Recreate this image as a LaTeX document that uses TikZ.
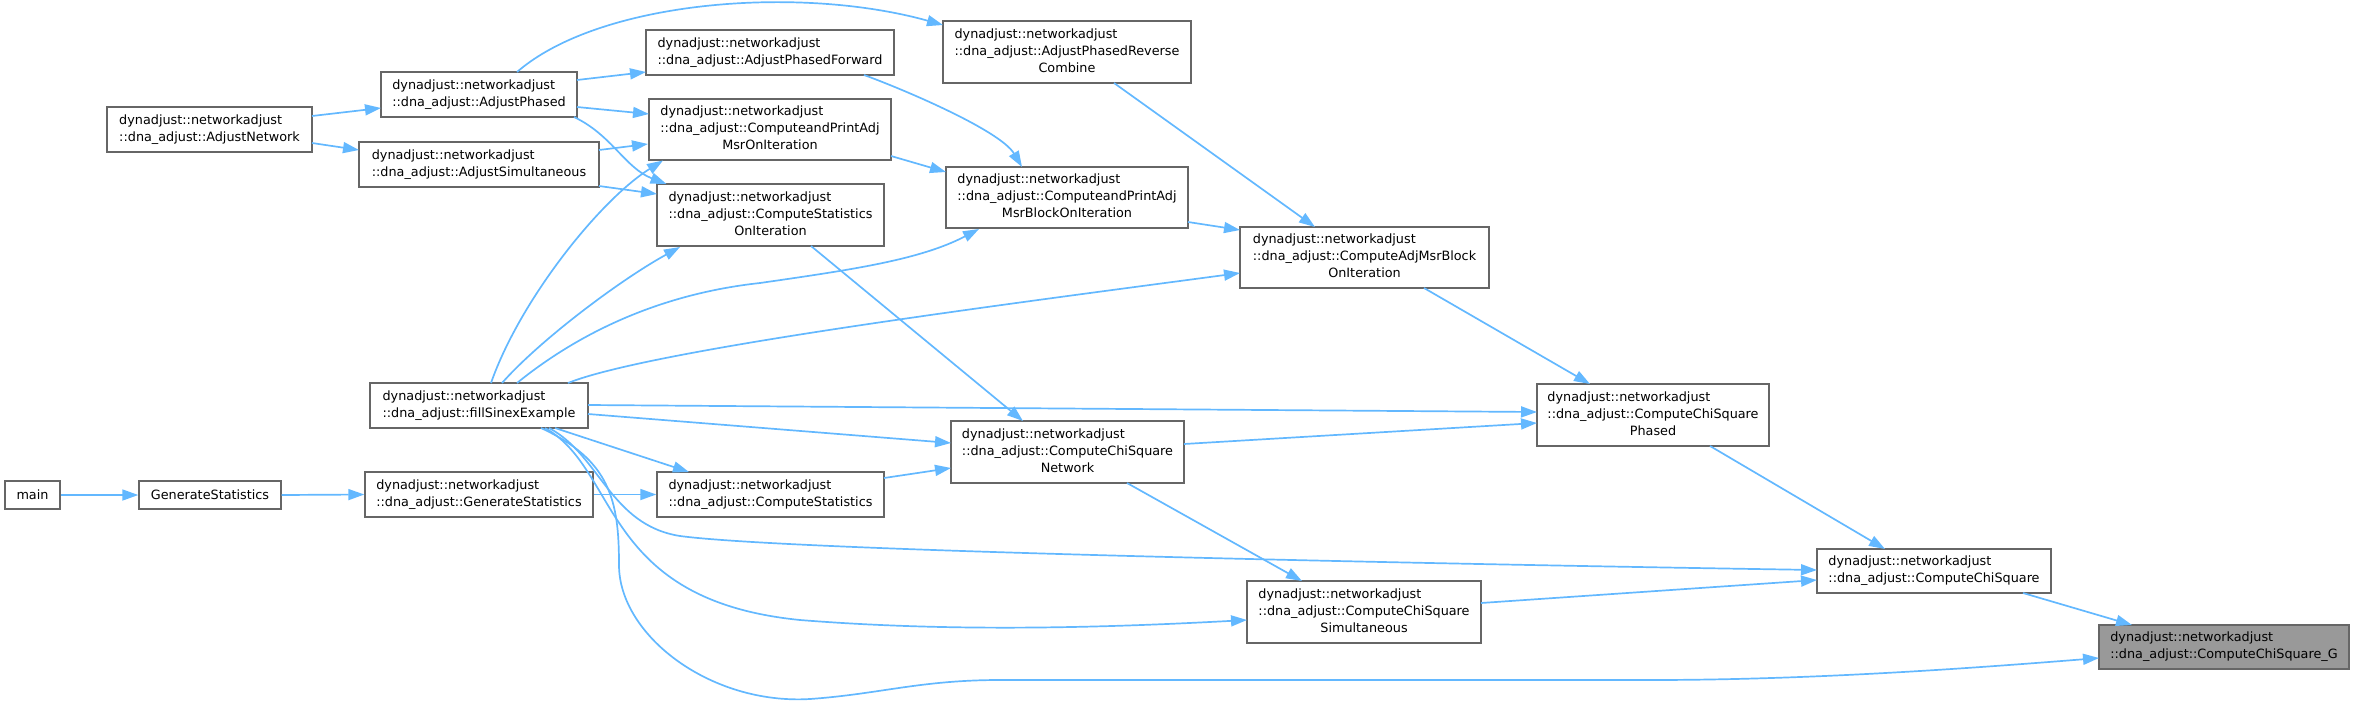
\documentclass[tikz,border=0pt]{standalone}
\usepackage{fontspec}
\setmainfont{DejaVu Sans}
\usetikzlibrary{arrows.meta,calc}
\definecolor{edgeblue}{HTML}{63B8FF}
\definecolor{boxgray}{HTML}{666666}
\definecolor{hlgray}{HTML}{999999}
\newcommand\twol[2]{\begin{tabular}{@{}l@{}}#1\\#2\end{tabular}}
\newcommand\threel[3]{\begin{tabular}{@{}l@{}}#1\\#2\\\multicolumn{1}{@{}c@{}}{#3}\end{tabular}}
\newcommand\dnn{dynadjust::networkadjust}
\begin{document}
\begin{tikzpicture}[x=0.5pt,y=-0.5pt,
  nbox/.style={draw=boxgray, fill=white, line width=0.7pt, inner sep=0pt,
    font=\fontsize{6.4pt}{8.5pt}\selectfont, text=black},
  edge/.style={draw=edgeblue, line width=0.85pt, -{Triangle[length=8pt,width=5.5pt]}}]
\useasboundingbox (0,0) rectangle (2355,707);

% nodes
\node[nbox, minimum width=27.5pt, minimum height=14pt] (main) at (32.5,495) {main};
\node[nbox, minimum width=71pt, minimum height=14pt] (gs) at (210,495) {GenerateStatistics};
\node[nbox, minimum width=114pt, minimum height=22.5pt] (dgs) at (479,494.5) {\twol{\dnn}{::dna\_adjust::GenerateStatistics}};
\node[nbox, minimum width=109pt, minimum height=22.5pt] (fill) at (479,405.5) {\twol{\dnn}{::dna\_adjust::fillSinexExample}};
\node[nbox, minimum width=102.5pt, minimum height=22.5pt] (an) at (209.5,129.5) {\twol{\dnn}{::dna\_adjust::AdjustNetwork}};
\node[nbox, minimum width=98pt, minimum height=22.5pt] (ap) at (479,94.5) {\twol{\dnn}{::dna\_adjust::AdjustPhased}};
\node[nbox, minimum width=120pt, minimum height=22.5pt] (as) at (479,164.5) {\twol{\dnn}{::dna\_adjust::AdjustSimultaneous}};
\node[nbox, minimum width=124pt, minimum height=22.5pt] (apf) at (770,52.5) {\twol{\dnn}{::dna\_adjust::AdjustPhasedForward}};
\node[nbox, minimum width=121pt, minimum height=30.5pt] (cpamoi) at (770,129.5) {\threel{\dnn}{::dna\_adjust::ComputeandPrintAdj}{MsrOnIteration}};
\node[nbox, minimum width=113.5pt, minimum height=31pt] (csoi) at (770.5,215) {\threel{\dnn}{::dna\_adjust::ComputeStatistics}{OnIteration}};
\node[nbox, minimum width=113.5pt, minimum height=22.5pt] (cst) at (770.5,494.5) {\twol{\dnn}{::dna\_adjust::ComputeStatistics}};
\node[nbox, minimum width=124pt, minimum height=31pt] (aprc) at (1067,52) {\threel{\dnn}{::dna\_adjust::AdjustPhasedReverse}{Combine}};
\node[nbox, minimum width=121pt, minimum height=30.5pt] (cpamboi) at (1067,197.5) {\threel{\dnn}{::dna\_adjust::ComputeandPrintAdj}{MsrBlockOnIteration}};
\node[nbox, minimum width=116.5pt, minimum height=31pt] (csn) at (1067.5,452) {\threel{\dnn}{::dna\_adjust::ComputeChiSquare}{Network}};
\node[nbox, minimum width=117pt, minimum height=31pt] (css) at (1364,612) {\threel{\dnn}{::dna\_adjust::ComputeChiSquare}{Simultaneous}};
\node[nbox, minimum width=124.5pt, minimum height=30.5pt] (camboi) at (1364.5,257.5) {\threel{\dnn}{::dna\_adjust::ComputeAdjMsrBlock}{OnIteration}};
\node[nbox, minimum width=116pt, minimum height=31pt] (csp) at (1653,415) {\threel{\dnn}{::dna\_adjust::ComputeChiSquare}{Phased}};
\node[nbox, minimum width=117pt, minimum height=22pt] (cs) at (1934,571) {\twol{\dnn}{::dna\_adjust::ComputeChiSquare}};
\node[nbox, fill=hlgray, minimum width=125pt, minimum height=22pt] (csg) at (2224,647) {\twol{\dnn}{::dna\_adjust::ComputeChiSquare\_G}};

% edges
\draw[edge] (main.east) -- (gs.west);
\draw[edge] (gs.east) -- (dgs.west);
\draw[edge] (dgs.east) -- (cst.west);
\draw[edge] ($(an)+(102.5,-13.5)$) -- ($(ap)+(-98,13.5)$);
\draw[edge] ($(an)+(102.5,13.5)$) -- ($(as)+(-120,-14.5)$);
\draw[edge] ($(ap)+(98,-14.5)$) -- ($(apf)+(-124,19.5)$);
\draw[edge] ($(ap)+(98,12.5)$) -- ($(cpamoi)+(-121,-15.5)$);
\draw[edge] ($(ap)+(95,22.5)$) .. controls (612,135) and (625,168) .. ($(csoi)+(-104,-31)$);
\draw[edge] ($(ap)+(38,-22.5)$) .. controls (600,0) and (800,-15) .. ($(aprc)+(-124,-27)$);
\draw[edge] ($(as)+(120,-14.5)$) -- ($(cpamoi)+(-122,14.5)$);
\draw[edge] ($(as)+(120,21.5)$) -- ($(csoi)+(-113.5,-21)$);
\draw[edge] ($(apf)+(94,22.5)$) .. controls (900,88) and (1000,130) .. ($(cpamboi)+(-45,-30.5)$);
\draw[edge] ($(cpamoi)+(121,26.5)$) -- ($(cpamboi)+(-121,-25.5)$);
\draw[edge] ($(aprc)+(47,31)$) -- ($(camboi)+(-49.5,-30.5)$);
\draw[edge] ($(cpamboi)+(121,24.5)$) -- ($(camboi)+(-124.5,-27.5)$);
\draw[edge] ($(camboi)+(59.5,30.5)$) -- ($(csp)+(-63,-31)$);
\draw[edge] ($(csoi)+(40.5,31)$) -- ($(csn)+(-44.5,-31)$);
\draw[edge] ($(csp)+(57,31)$) -- ($(cs)+(-49,-22)$);
\draw[edge] ($(csn)+(116.5,-8)$) -- ($(csp)+(-116,8)$);
\draw[edge] ($(csn)+(59.5,31)$) -- ($(css)+(-62,-31)$);
\draw[edge] ($(css)+(117,-9)$) -- ($(cs)+(-117,9)$);
\draw[edge] ($(cs)+(89,22)$) -- ($(csg)+(-92,-22)$);
\draw[edge] ($(cst)+(113.5,-16.5)$) -- ($(csn)+(-116.5,16)$);
% from fillSinexExample
\draw[edge] ($(fill)+(12,-22.5)$) .. controls (520,300) and (600,200) .. ($(cpamoi)+(-107,31)$);
\draw[edge] ($(fill)+(23,-22.5)$) .. controls (540,340) and (620,280) .. ($(csoi)+(-90.5,32)$);
\draw[edge] ($(fill)+(38,-22.5)$) .. controls (570,340) and (650,295) .. (760,283)
  .. controls (850,270) and (920,260) .. ($(cpamboi)+(-88,31.5)$);
\draw[edge] ($(fill)+(89,-22.5)$) .. controls (650,350) and (1000,305) .. ($(camboi)+(-124.5,15.5)$);
\draw[edge] ($(fill)+(109,-0.5)$) -- ($(csp)+(-116,-3)$);
\draw[edge] ($(fill)+(109,8.5)$) -- ($(csn)+(-116.5,-9)$);
\draw[edge] ($(fill)+(76,22.5)$) -- ($(cst)+(-81.5,-22.5)$);
\draw[edge] ($(fill)+(70,22.5)$) .. controls (600,455) and (610,525) .. (680,536)
  .. controls (800,552) and (1500,565) .. ($(cs)+(-117,-1)$);
\draw[edge] ($(fill)+(66,22.5)$) .. controls (620,470) and (600,600) .. (800,620)
  .. controls (950,632) and (1100,628) .. ($(css)+(-117,8)$);
\draw[edge] ($(fill)+(62,22.5)$) .. controls (610,460) and (619,500) .. (619,565)
  .. controls (619,635) and (710,705) .. (810,699)
  .. controls (880,694) and (920,680) .. (1000,680) -- (1650,680)
  .. controls (1800,680) and (1950,670) .. ($(csg)+(-125,11)$);
\end{tikzpicture}
\end{document}
